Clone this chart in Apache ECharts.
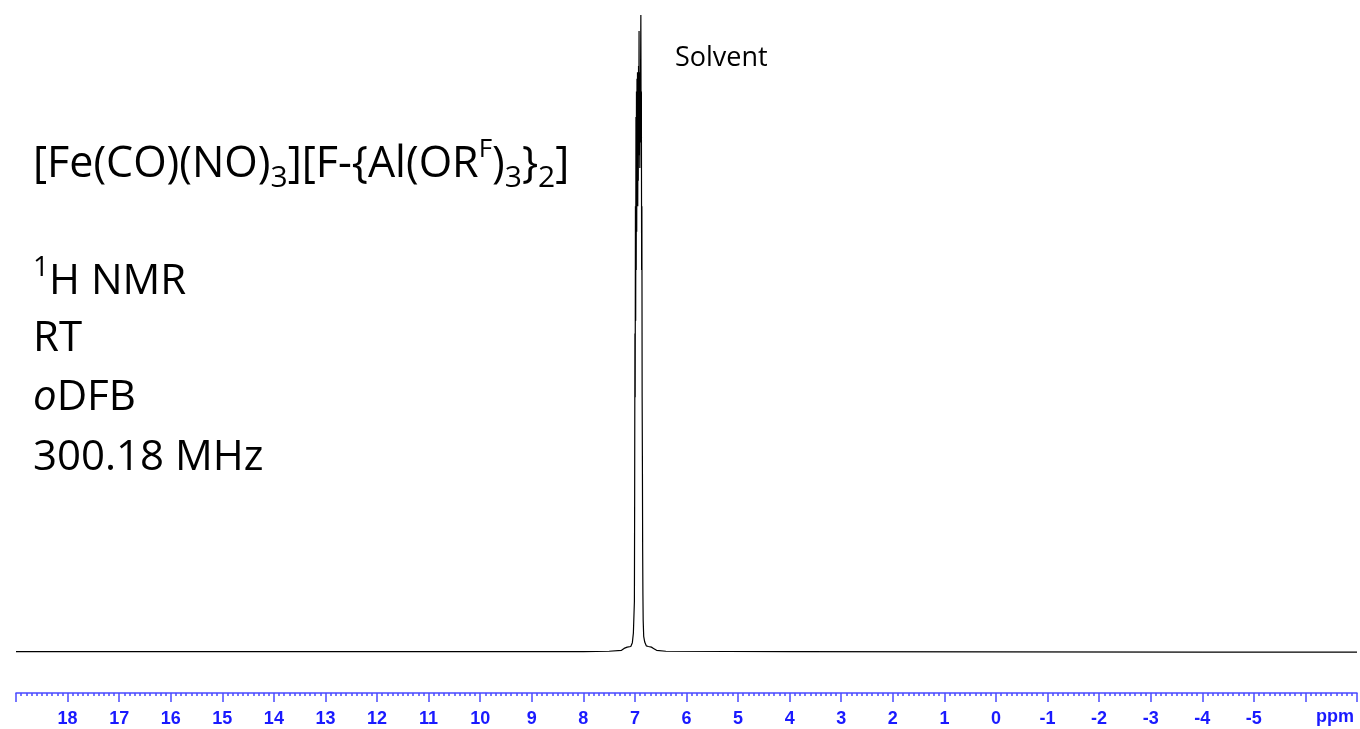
<!DOCTYPE html>
<html>
<head>
<meta charset="utf-8">
<script src="https://cdn.jsdelivr.net/npm/echarts@6/dist/echarts.min.js"></script>
<style>
  html, body { margin: 0; padding: 0; background: #fff; }
  #main { width: 1360px; height: 729px; }
</style>
</head>
<body>
<div id="main"></div>
<script>
// chemical shift (ppm) and intensity
var shifts = [19.0, 15.0, 11.0, 8.0, 7.5, 7.26, 7.21, 7.18, 7.15, 7.12, 7.08, 7.05, 7.03, 7.01, 7.005, 7.0, 6.995, 6.99, 6.985, 6.98, 6.975, 6.97, 6.965, 6.96, 6.955, 6.95, 6.945, 6.94, 6.935, 6.93, 6.925, 6.92, 6.915, 6.91, 6.905, 6.90, 6.895, 6.89, 6.885, 6.88, 6.875, 6.87, 6.865, 6.86, 6.855, 6.85, 6.845, 6.84, 6.83, 6.81, 6.78, 6.74, 6.68, 6.64, 6.58, 6.4, 4.0, 0.0, -4.0, -7.0];
var intensity = [0.1, 0.1, 0.1, 0.1, 0.15, 0.3, 0.6, 0.9, 0.8, 0.7, 0.9, 1.5, 3, 8, 25, 50, 40, 70, 52, 84, 60, 88, 66, 90, 72, 91, 70, 90, 74, 92, 80, 97.5, 78, 90, 76, 91, 80, 92, 100, 82, 88, 60, 70, 40, 30, 16, 9, 5, 2.5, 1.6, 1.0, 0.9, 0.8, 0.6, 0.3, 0.15, 0.1, 0.05, 0.0, 0.0];
var hiddenTicks = [19, -6, -7];

var spectrum = [];
for (var i = 0; i < shifts.length; i++) {
    spectrum.push([shifts[i], intensity[i]]);
}

var myChart = echarts.init(document.getElementById('main'));

var txtFont = '"Open Sans", sans-serif';
var big = 42, small = 28;
var option = {
    backgroundColor: '#fff',
    animation: false,
    grid: { left: 16, right: 0, top: 15, bottom: 36 },
    xAxis: {
        type: 'value',
        inverse: true,
        min: -7,
        max: 19,
        interval: 1,
        axisLine: { onZero: false, lineStyle: { color: '#4a4aff', width: 1.5 } },
        axisTick: { length: 9, lineStyle: { color: '#4a4aff', width: 1.5 } },
        minorTick: { show: true, splitNumber: 10, length: 3, lineStyle: { color: '#4a4aff', width: 1.5 } },
        splitLine: { show: false },
        axisLabel: {
            margin: 17,
            color: '#1a1aff',
            fontFamily: '"Liberation Sans", Arial, sans-serif',
            fontWeight: 'bold',
            fontSize: 18,
            showMinLabel: true,
            showMaxLabel: true,
            formatter: function (v) {
                if (hiddenTicks.indexOf(v) >= 0) return '';
                return String(v);
            }
        }
    },
    yAxis: {
        type: 'value',
        show: false,
        min: -6.4,
        max: 100
    },
    series: [{
        type: 'line',
        data: spectrum,
        showSymbol: false,
        lineStyle: { color: '#000', width: 1.2 }
    }],
    graphic: [
        {
            type: 'text', left: 1316, top: 708,
            style: { text: 'ppm', fill: '#1a1aff', font: 'bold 18px "Liberation Sans", Arial, sans-serif' }
        },
        {
            type: 'text', left: 675, top: 45,
            style: { text: 'Solvent', fill: '#000', font: '27px ' + txtFont }
        },
        {
            type: 'text', left: 33, top: 137,
            style: {
                // bare "}" sits between tokens as plain text
                text: '{m|[Fe(CO)(NO)}{s|3}{m|][F-{Al(OR}{p|F}{m|)}{s|3}}{s|2}{m|]}',
                font: '43px ' + txtFont,
                lineHeight: 56,
                fill: '#000',
                rich: {
                    m: { fontSize: 43, fontFamily: txtFont, lineHeight: 56, verticalAlign: 'middle', fill: '#000' },
                    s: { fontSize: 30, fontFamily: txtFont, lineHeight: 30, verticalAlign: 'bottom', fill: '#000' },
                    p: { fontSize: 26, fontFamily: txtFont, lineHeight: 26, verticalAlign: 'top', fill: '#000' }
                }
            }
        },
        {
            type: 'text', left: 33, top: 254,
            style: {
                text: '{p|1}{m|H NMR}',
                rich: {
                    m: { fontSize: big, fontFamily: txtFont, lineHeight: 56, verticalAlign: 'middle', fill: '#000' },
                    p: { fontSize: small, fontFamily: txtFont, lineHeight: small, verticalAlign: 'top', fill: '#000' }
                }
            }
        },
        {
            type: 'text', left: 33, top: 318,
            style: { text: 'RT', fill: '#000', font: big + 'px ' + txtFont }
        },
        {
            type: 'text', left: 33, top: 377,
            style: {
                text: '{i|o}{m|DFB}',
                rich: {
                    m: { fontSize: big, fontFamily: txtFont, fill: '#000' },
                    i: { fontSize: big, fontFamily: txtFont, fontStyle: 'italic', fill: '#000' }
                }
            }
        },
        {
            type: 'text', left: 33, top: 437,
            style: { text: '300.18 MHz', fill: '#000', font: big + 'px ' + txtFont }
        }
    ]
};

window.onresize = myChart.resize;
myChart.setOption(option);
</script>
</body>
</html>
